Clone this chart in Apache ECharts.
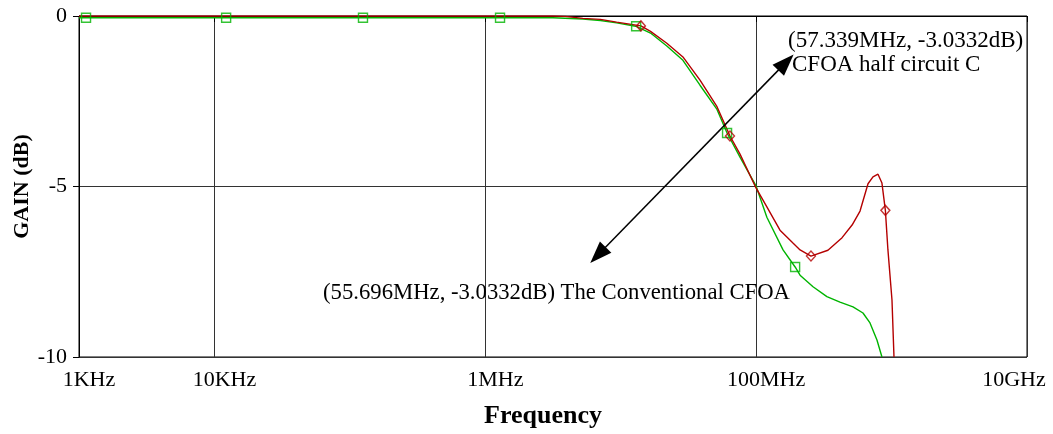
<!DOCTYPE html>
<html>
<head>
<meta charset="utf-8">
<script src="https://cdn.jsdelivr.net/npm/echarts@6/dist/echarts.min.js"></script>
<style>
html,body{margin:0;padding:0;background:#fff;}
#chart{width:1053px;height:434px;}
</style>
</head>
<body>
<div id="chart"></div>
<script>
// ---- data ----
const tickValues = [1e3, 1e4, 1e6, 1e8, 1e10];
const tickLabels = ['1KHz', '10KHz', '1MHz', '100MHz', '10GHz'];
const yTicks = [0, -5, -10];

// The Conventional CFOA (green)
const convFreq = [1e3, 1e4, 1e5, 1e6, 3.16e6, 5.25e6, 7.08e6, 9.33e6, 1.29e7, 1.66e7, 2.19e7, 2.88e7, 3.85e7, 5.14e7, 6.10e7, 7.60e7, 1.0e8, 1.20e8, 1.58e8, 1.94e8, 2.11e8, 2.63e8, 3.33e8, 4.16e8, 5.19e8, 6.15e8, 6.93e8, 7.80e8, 8.49e8];
const convGain = [-0.05, -0.05, -0.05, -0.05, -0.05, -0.09, -0.13, -0.20, -0.30, -0.50, -0.88, -1.30, -2.03, -2.74, -3.43, -4.14, -4.99, -5.90, -6.86, -7.36, -7.60, -7.94, -8.23, -8.39, -8.53, -8.71, -9.00, -9.50, -10.0];
const convMarkFreq = [1127, 1.22e4, 1.25e5, 1.285e6, 1.30e7, 6.10e7, 1.94e8];
const convMarkGain = [-0.05, -0.05, -0.05, -0.05, -0.30, -3.43, -7.36];

// CFOA half circuit C (red)
const halfFreq = [1e3, 1e4, 1e5, 1e6, 3.16e6, 3.89e6, 5.25e6, 7.08e6, 9.33e6, 1.41e7, 1.66e7, 2.19e7, 2.88e7, 3.85e7, 5.14e7, 6.41e7, 7.60e7, 1.0e8, 1.20e8, 1.50e8, 1.87e8, 2.11e8, 2.54e8, 3.39e8, 4.31e8, 5.11e8, 5.85e8, 6.70e8, 7.29e8, 7.94e8, 8.49e8, 9.0e8, 9.40e8, 1.007e9, 1.042e9];
const halfGain = [0, 0, 0, 0, 0, -0.01, -0.07, -0.10, -0.18, -0.29, -0.45, -0.80, -1.20, -1.88, -2.66, -3.52, -4.05, -5.05, -5.60, -6.28, -6.66, -6.86, -7.04, -6.87, -6.50, -6.13, -5.72, -4.92, -4.72, -4.64, -4.90, -5.70, -6.86, -8.33, -10.0];
const halfMarkFreq = [1.41e7, 6.41e7, 2.54e8, 9.0e8];
const halfMarkGain = [-0.29, -3.52, -7.04, -5.70];

// annotations
const arrowStart = [6.79e6, -7.01];
const arrowEnd = [1.66e8, -1.36];
const annTexts = ['(57.339MHz, -3.0332dB)', 'CFOA half circuit C', '(55.696MHz, -3.0332dB) The Conventional CFOA'];
const annAt = [[1.72e8, -0.74], [1.84e8, -1.44], [6.34e4, -8.12]];
const annSize = [23, 23, 22.7];

const GREEN = '#00b400';
const RED = '#b40000';
const FONT = '"Liberation Serif", "Times New Roman", serif';

function zip(a, b) { return a.map((v, i) => [v, b[i]]); }

const chart = echarts.init(document.getElementById('chart'), null, {renderer: 'canvas'});

const option = {
  animation: false,
  backgroundColor: '#fff',
  grid: {left: 79, top: 16, right: 26, bottom: 77, show: true, borderColor: '#000', borderWidth: 1,
         outerBoundsMode: 'none', containLabel: false},
  xAxis: {
    type: 'log', logBase: 100, min: 1e3, max: 1e10,
    name: 'Frequency', nameLocation: 'middle', nameGap: 46, nameMoveOverlap: false,
    nameTextStyle: {fontFamily: FONT, fontSize: 26, fontWeight: 'bold', color: '#000', padding: [0, 20, 0, 0]},
    axisLine: {lineStyle: {color: '#000', width: 1}},
    axisTick: {show: true, inside: false, length: 6, lineStyle: {color: '#000'}},
    splitLine: {show: true, lineStyle: {color: '#333', width: 1}},
    minorTick: {show: false},
    axisLabel: {
      fontFamily: FONT, fontSize: 22, color: '#000', margin: 12,
      formatter: function (v) {
        const e = Math.round(Math.log10(v));
        const i = tickValues.findIndex(t => Math.round(Math.log10(t)) === e);
        if (i < 0) return '';
        if (i === tickValues.length - 1) return '{r|' + tickLabels[i] + '}';
        return '{l|' + tickLabels[i] + '}';
      },
      rich: {
        l: {fontFamily: FONT, fontSize: 22, color: '#000', padding: [0, 0, 0, 20]},
        r: {fontFamily: FONT, fontSize: 22, color: '#000', padding: [0, 26, 0, 0]}
      }
    }
  },
  yAxis: {
    type: 'value', min: -10, max: 0, interval: 5,
    name: 'GAIN (dB)', nameLocation: 'middle', nameGap: 46, nameRotate: 90, nameMoveOverlap: false,
    nameTextStyle: {fontFamily: FONT, fontSize: 22, fontWeight: 'bold', color: '#000'},
    axisLine: {show: true, lineStyle: {color: '#000', width: 1}},
    axisTick: {show: true, inside: false, length: 6, lineStyle: {color: '#000'}},
    splitLine: {show: true, lineStyle: {color: '#333', width: 1}},
    axisLabel: {
      fontFamily: FONT, fontSize: 22, color: '#000', margin: 12,
      formatter: function (v) { return yTicks.indexOf(v) >= 0 ? String(v) : ''; }
    }
  },
  series: [
    {
      name: 'The Conventional CFOA', type: 'line', data: zip(convFreq, convGain),
      showSymbol: false, smooth: false, lineStyle: {color: GREEN, width: 1.4}, z: 3
    },
    {
      name: 'CFOA half circuit C', type: 'line', data: zip(halfFreq, halfGain),
      showSymbol: false, smooth: false, lineStyle: {color: RED, width: 1.4}, z: 4,
      markLine: {
        silent: true, symbol: ['triangle', 'triangle'], symbolSize: [16, 22],
        lineStyle: {color: '#000', width: 1.5, type: 'solid'},
        itemStyle: {color: '#000'},
        label: {show: false},
        data: [[{coord: arrowStart}, {coord: arrowEnd}]]
      },
      markPoint: {
        silent: true, symbol: 'circle', symbolSize: 0,
        data: annTexts.map((t, i) => ({
          coord: annAt[i], value: t,
          label: {show: true, position: 'inside', align: 'left', verticalAlign: 'middle',
                  formatter: t, fontFamily: FONT, fontSize: annSize[i], color: '#000'}
        }))
      }
    },
    {
      type: 'scatter', data: zip(convMarkFreq, convMarkGain), symbol: 'rect', symbolSize: 9,
      itemStyle: {color: 'rgba(0,0,0,0)', borderColor: GREEN, borderWidth: 1.4}, z: 5
    },
    {
      type: 'scatter', data: zip(halfMarkFreq, halfMarkGain), symbol: 'diamond', symbolSize: [9, 10],
      itemStyle: {color: 'rgba(0,0,0,0)', borderColor: RED, borderWidth: 1.4}, z: 6
    }
  ]
};
chart.setOption(option);
</script>
</body>
</html>
